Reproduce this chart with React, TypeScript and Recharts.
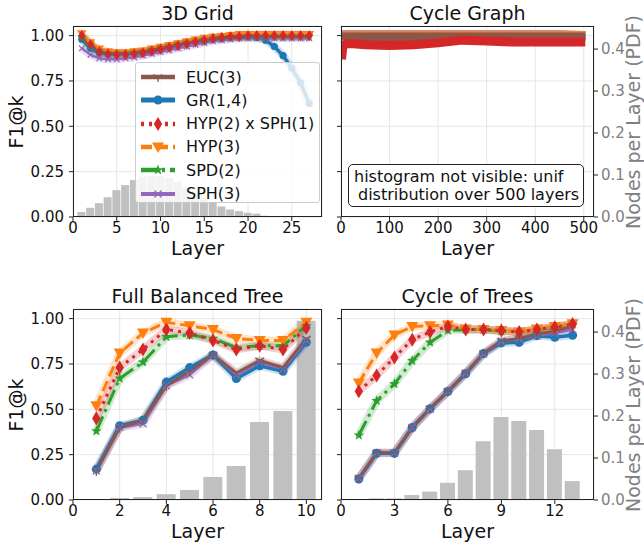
import React from 'react'
import { ComposedChart, Line, Bar, XAxis, YAxis, CartesianGrid } from 'recharts'

const FONT = '"DejaVu Sans", Verdana, sans-serif'

// ---------- 3D Grid ----------
const gridLayers = [1, 2, 3, 4, 5, 6, 7, 8, 9, 10, 11, 12, 13, 14, 15, 16, 17, 18, 19, 20, 21, 22, 23, 24, 25, 26, 27]
const gridPdf = [0.012, 0.022, 0.033, 0.047, 0.064, 0.076, 0.088, 0.096, 0.098, 0.098, 0.093, 0.084, 0.071, 0.057, 0.045, 0.034, 0.025, 0.018, 0.014, 0.01, 0.008, 0.003]
const gridEuc = [0.99, 0.95, 0.915, 0.9, 0.9, 0.9, 0.905, 0.91, 0.92, 0.93, 0.94, 0.95, 0.96, 0.965, 0.975, 0.98, 0.985, 0.99, 0.99, 0.995, 0.995, 0.995, 0.995, 0.995, 0.995, 0.995, 0.995]
const gridGr = [0.98, 0.93, 0.905, 0.9, 0.9, 0.9, 0.905, 0.91, 0.92, 0.93, 0.94, 0.95, 0.96, 0.97, 0.975, 0.985, 0.99, 0.995, 0.995, 0.995, 0.99, 0.975, 0.94, 0.89, 0.82, 0.74, 0.625]
const gridHs = [1.0, 0.95, 0.91, 0.9, 0.895, 0.895, 0.9, 0.905, 0.915, 0.925, 0.935, 0.945, 0.955, 0.965, 0.975, 0.985, 0.99, 0.995, 0.995, 1.0, 1.0, 1.0, 1.0, 1.0, 1.0, 1.0, 1.0]
const gridHyp = [1.01, 0.96, 0.925, 0.91, 0.905, 0.905, 0.91, 0.915, 0.925, 0.935, 0.945, 0.955, 0.965, 0.975, 0.985, 0.99, 0.995, 1.0, 1.005, 1.005, 1.005, 1.005, 1.005, 1.005, 1.005, 1.005, 1.005]
const gridSpd = [0.99, 0.94, 0.91, 0.9, 0.9, 0.9, 0.905, 0.91, 0.92, 0.93, 0.94, 0.95, 0.96, 0.97, 0.975, 0.985, 0.99, 0.99, 0.995, 0.995, 0.995, 0.995, 0.995, 0.995, 0.995, 0.995, 0.995]
const gridSph = [0.93, 0.895, 0.875, 0.87, 0.87, 0.875, 0.88, 0.89, 0.9, 0.91, 0.92, 0.93, 0.94, 0.95, 0.96, 0.97, 0.975, 0.98, 0.985, 0.985, 0.985, 0.985, 0.985, 0.985, 0.985, 0.985, 0.985]

// ---------- Cycle Graph ----------
const cycleLayers = [1, 4, 10, 25, 50, 100, 150, 200, 250, 300, 350, 400, 450, 503]
const cycleEuc = [0.99, 0.993, 0.993, 0.993, 0.993, 0.993, 0.993, 0.993, 0.993, 0.993, 0.993, 0.993, 0.993, 0.993]
const cycleGr = [0.99, 1.0, 1.0, 1.0, 1.0, 1.0, 1.0, 1.0, 1.0, 1.0, 1.0, 1.0, 1.0, 0.99]
const cycleHs = [0.87, 0.94, 0.955, 0.955, 0.95, 0.945, 0.95, 0.96, 0.975, 0.97, 0.965, 0.965, 0.965, 0.965]
const cycleHyp = [1.0, 1.0, 1.0, 1.0, 1.0, 1.0, 1.0, 1.0, 1.0, 1.0, 1.0, 1.0, 1.0, 1.0]
const cycleSpd = [1.0, 1.0, 1.0, 1.0, 1.0, 1.0, 1.0, 1.0, 1.0, 1.0, 1.0, 1.0, 1.0, 1.0]
const cycleSph = [1.0, 1.005, 1.005, 1.005, 1.005, 1.005, 1.005, 1.005, 1.005, 1.005, 1.005, 1.005, 1.005, 1.0]

// ---------- Full Balanced Tree ----------
const treeLayers = [1, 2, 3, 4, 5, 6, 7, 8, 9, 10]
const treePdf = [0.001, 0.005, 0.007, 0.014, 0.024, 0.055, 0.081, 0.186, 0.212, 0.427]
const treeEuc = [0.16, 0.4, 0.44, 0.63, 0.71, 0.8, 0.7, 0.77, 0.73, 0.89]
const treeGr = [0.17, 0.41, 0.44, 0.65, 0.73, 0.8, 0.67, 0.74, 0.71, 0.87]
const treeHs = [0.45, 0.73, 0.83, 0.94, 0.92, 0.88, 0.83, 0.85, 0.83, 0.95]
const treeHyp = [0.52, 0.81, 0.92, 0.98, 0.96, 0.94, 0.89, 0.88, 0.88, 0.98]
const treeSpd = [0.38, 0.67, 0.76, 0.9, 0.91, 0.89, 0.84, 0.85, 0.85, 0.96]
const treeSph = [0.16, 0.4, 0.42, 0.63, 0.69, 0.8, 0.69, 0.76, 0.72, 0.88]

// ---------- Cycle of Trees ----------
const cotLayers = [1, 2, 3, 4, 5, 6, 7, 8, 9, 10, 11, 12, 13]
const cotPdf = [0.001, 0.004, 0.004, 0.012, 0.02, 0.041, 0.071, 0.14, 0.198, 0.188, 0.167, 0.121, 0.045]
const cotEuc = [0.12, 0.26, 0.26, 0.4, 0.505, 0.6, 0.7, 0.81, 0.878, 0.89, 0.915, 0.93, 0.958]
const cotGr = [0.116, 0.258, 0.258, 0.4, 0.503, 0.598, 0.696, 0.807, 0.866, 0.869, 0.906, 0.897, 0.908]
const cotHs = [0.6, 0.687, 0.786, 0.884, 0.926, 0.957, 0.94, 0.94, 0.935, 0.926, 0.94, 0.953, 0.97]
const cotHyp = [0.645, 0.81, 0.91, 0.957, 0.96, 0.965, 0.943, 0.94, 0.935, 0.926, 0.943, 0.957, 0.972]
const cotSpd = [0.357, 0.547, 0.64, 0.768, 0.869, 0.935, 0.94, 0.94, 0.93, 0.927, 0.94, 0.953, 0.968]
const cotSph = [0.12, 0.26, 0.26, 0.4, 0.5, 0.6, 0.7, 0.805, 0.875, 0.89, 0.905, 0.92, 0.94]

const f1Ticks = [0, 0.25, 0.5, 0.75, 1.0]
const pdfTicks = [0, 0.1, 0.2, 0.3, 0.4]

type Shape = 'circle' | 'diamond' | 'tri' | 'star' | 'x' | 'y'
type Series = { key: string; name: string; color: string; width: number; dash?: string; marker: Shape; size: number }

// drawing order (last on top)
const SERIES: Series[] = [
  { key: 'gr', name: 'GR(1,4)', color: '#1f77b4', width: 3.5, marker: 'circle', size: 4.5 },
  { key: 'sph', name: 'SPH(3)', color: '#9467bd', width: 2.5, marker: 'x', size: 3.5 },
  { key: 'spd', name: 'SPD(2)', color: '#2ca02c', width: 3, dash: '16 5 3 5', marker: 'star', size: 5.5 },
  { key: 'hyp', name: 'HYP(3)', color: '#ff7f0e', width: 3, dash: '11 5', marker: 'tri', size: 6 },
  { key: 'euc', name: 'EUC(3)', color: '#8c564b', width: 3, marker: 'y', size: 5 },
  { key: 'hs', name: 'HYP(2) x SPH(1)', color: '#d62728', width: 3, dash: '3 5', marker: 'diamond', size: 7 },
]
const LEGEND_ORDER = ['euc', 'gr', 'hs', 'hyp', 'spd', 'sph']

function MarkerShape({ shape, cx, cy, s, color }: { shape: Shape; cx: number; cy: number; s: number; color: string }) {
  switch (shape) {
    case 'circle':
      return <circle cx={cx} cy={cy} r={s} fill={color} />
    case 'diamond':
      return <polygon points={`${cx},${cy - s} ${cx + s * 0.6},${cy} ${cx},${cy + s} ${cx - s * 0.6},${cy}`} fill={color} />
    case 'tri':
      return <polygon points={`${cx - s},${cy - s * 0.75} ${cx + s},${cy - s * 0.75} ${cx},${cy + s}`} fill={color} />
    case 'star': {
      const pts: string[] = []
      for (let i = 0; i < 10; i++) {
        const r = i % 2 === 0 ? s : s * 0.42
        const a = -Math.PI / 2 + (i * Math.PI) / 5
        pts.push(`${cx + r * Math.cos(a)},${cy + r * Math.sin(a)}`)
      }
      return <polygon points={pts.join(' ')} fill={color} />
    }
    case 'x':
      return (
        <g stroke={color} strokeWidth={1.3}>
          <line x1={cx - s} y1={cy - s} x2={cx + s} y2={cy + s} />
          <line x1={cx - s} y1={cy + s} x2={cx + s} y2={cy - s} />
        </g>
      )
    case 'y':
    default:
      return (
        <g stroke={color} strokeWidth={1.3}>
          <line x1={cx} y1={cy} x2={cx} y2={cy + s} />
          <line x1={cx} y1={cy} x2={cx - s * 0.87} y2={cy - s * 0.5} />
          <line x1={cx} y1={cy} x2={cx + s * 0.87} y2={cy - s * 0.5} />
        </g>
      )
  }
}

const makeDot = (s: Series, color: string, scale: number) => (p: any) => {
  const k = `${s.key}-${p.index}`
  if (p.cx == null || p.cy == null || p.value == null) return <g key={k} />
  return (
    <g key={k}>
      <MarkerShape shape={s.marker} cx={p.cx} cy={p.cy} s={s.size * scale} color={color} />
    </g>
  )
}

type Row = { layer: number; [k: string]: number | undefined }

function buildRows(layers: number[], pdf: number[] | null, cols: Record<string, number[]>): Row[] {
  return layers.map((layer, i) => {
    const r: Row = { layer }
    if (pdf && pdf[i] !== undefined) r.pdf = pdf[i]
    Object.keys(cols).forEach((k) => {
      if (cols[k][i] !== undefined) r[k] = cols[k][i]
    })
    return r
  })
}

const gridRows = buildRows(gridLayers, gridPdf, { euc: gridEuc, gr: gridGr, hs: gridHs, hyp: gridHyp, spd: gridSpd, sph: gridSph })
const cycleRows = buildRows(cycleLayers, null, { euc: cycleEuc, gr: cycleGr, hs: cycleHs, hyp: cycleHyp, spd: cycleSpd, sph: cycleSph })
const treeRows = buildRows(treeLayers, treePdf, { euc: treeEuc, gr: treeGr, hs: treeHs, hyp: treeHyp, spd: treeSpd, sph: treeSph })
const cotRows = buildRows(cotLayers, cotPdf, { euc: cotEuc, gr: cotGr, hs: cotHs, hyp: cotHyp, spd: cotSpd, sph: cotSph })

type PanelProps = {
  x: number; y: number; w: number; h: number
  title: string
  rows: Row[]
  xMax: number; xTicks: number[]
  yMax: number; pdfMax: number
  leftLabels: boolean; rightLabels: boolean
  barSize: number
  thick?: boolean
  scale?: number
}

function Panel(props: PanelProps) {
  const { x, y, w, h, title, rows, xMax, xTicks, yMax, pdfMax, leftLabels, rightLabels, barSize, thick } = props
  const scale = props.scale ?? 1
  const M = 4
  const AXW = 56
  const XH = 30
  const tickStyle = { fontSize: 15, fill: '#111', fontFamily: FONT }
  return (
    <>
      <div style={{ position: 'absolute', left: x, top: y - 25, width: w, textAlign: 'center', fontSize: 19, lineHeight: '24px', fontFamily: FONT, color: '#111' }}>
        {title}
      </div>
      <div style={{ position: 'absolute', left: x - M - AXW, top: y - M }}>
        <ComposedChart width={w + 2 * (M + AXW)} height={h + XH + 2 * M} data={rows} margin={{ top: M, right: M, bottom: M, left: M }}>
          <CartesianGrid yAxisId="f1" stroke="#e6e6e6" strokeWidth={1} />
          <XAxis
            dataKey="layer" type="number" domain={[0, xMax]} ticks={xTicks} allowDataOverflow height={XH}
            axisLine={false} tickLine={{ stroke: '#222' }} tickSize={4} tickMargin={1} tick={tickStyle} interval={0}
          />
          <YAxis
            yAxisId="f1" domain={[0, yMax]} ticks={f1Ticks} allowDataOverflow width={AXW} axisLine={false}
            tickLine={{ stroke: '#222' }} tickSize={4} tickMargin={5} tick={tickStyle} interval={0}
            tickFormatter={(v: number) => (leftLabels ? v.toFixed(2) : '')}
          />
          <YAxis
            yAxisId="pdf" orientation="right" domain={[0, pdfMax]} ticks={pdfTicks} allowDataOverflow width={AXW}
            axisLine={false} tickLine={rightLabels ? { stroke: '#222' } : false} tickSize={4} tickMargin={3} interval={0}
            tick={rightLabels ? { ...tickStyle, fill: '#808080' } : false}
            tickFormatter={(v: number) => v.toFixed(1)}
          />
          <Bar yAxisId="pdf" dataKey="pdf" fill="#c0c0c0" barSize={barSize} isAnimationActive={false} />
          {!thick &&
            SERIES.map((s) => (
              <Line
                key={`halo-${s.key}`} yAxisId="f1" dataKey={s.key} stroke={s.color} strokeOpacity={0.22}
                strokeWidth={8} dot={false} activeDot={false} isAnimationActive={false} legendType="none"
              />
            ))}
          {SERIES.map((s) => (
            <Line
              key={s.key} yAxisId="f1" dataKey={s.key} name={s.name} stroke={s.color}
              strokeWidth={thick ? 9 : s.width} strokeDasharray={thick ? undefined : s.dash}
              dot={thick ? false : makeDot(s, s.color, scale)} activeDot={false} isAnimationActive={false}
            />
          ))}
        </ComposedChart>
      </div>
      <div style={{ position: 'absolute', left: x, top: y, width: w, height: h, border: '1px solid #222', boxSizing: 'border-box', pointerEvents: 'none' }} />
      <div style={{ position: 'absolute', left: x, top: y + h + 20, width: w, textAlign: 'center', fontSize: 19, lineHeight: '22px', fontFamily: FONT, color: '#111' }}>
        Layer
      </div>
      {leftLabels && (
        <div style={{ position: 'absolute', left: 16 - 60, top: y + h / 2 - 12, width: 120, textAlign: 'center', fontSize: 19, lineHeight: '24px', fontFamily: FONT, color: '#111', transform: 'rotate(-90deg)' }}>
          F1@k
        </div>
      )}
      {rightLabels && (
        <div style={{ position: 'absolute', left: 633 - 130, top: y + h / 2 - 12, width: 260, textAlign: 'center', fontSize: 19, lineHeight: '24px', fontFamily: FONT, color: '#808080', transform: 'rotate(-90deg)' }}>
          Nodes per Layer (PDF)
        </div>
      )}
    </>
  )
}

function LegendBox() {
  return (
    <div style={{ position: 'absolute', left: 135, top: 62, width: 185, height: 141, boxSizing: 'border-box', background: 'rgba(255,255,255,0.8)', border: '1px solid #cccccc', borderRadius: 3, fontFamily: FONT, fontSize: 16, color: '#111' }}>
      {LEGEND_ORDER.map((k, i) => {
        const s = SERIES.find((d) => d.key === k)!
        return (
          <div key={k} style={{ position: 'absolute', left: 4, top: 3 + i * 23.3, height: 22, display: 'flex', alignItems: 'center' }}>
            <svg width={36} height={20} style={{ display: 'block' }}>
              <line x1={1} y1={10} x2={35} y2={10} stroke={s.color} strokeWidth={s.width + 1.5} strokeDasharray={s.dash} />
              <MarkerShape shape={s.marker} cx={18} cy={10} s={s.size} color={s.color} />
            </svg>
            <span style={{ marginLeft: 10, whiteSpace: 'nowrap' }}>{s.name}</span>
          </div>
        )
      })}
    </div>
  )
}

export default function App() {
  return (
    <div style={{ position: 'absolute', left: 0, top: 0, width: 644, height: 545, background: '#fff', overflow: 'hidden' }}>
      <Panel
        x={73} y={26} w={249} h={191} title="3D Grid" rows={gridRows} xMax={28.45} xTicks={[0, 5, 10, 15, 20, 25]}
        yMax={1.053} pdfMax={0.455} leftLabels rightLabels={false} barSize={8} scale={0.8}
      />
      <Panel
        x={341} y={26} w={253} h={191} title="Cycle Graph" rows={cycleRows} xMax={521} xTicks={[0, 100, 200, 300, 400, 500]}
        yMax={1.053} pdfMax={0.455} leftLabels={false} rightLabels barSize={1} thick
      />
      <Panel
        x={73} y={309} w={249} h={191} title="Full Balanced Tree" rows={treeRows} xMax={10.67} xTicks={[0, 2, 4, 6, 8, 10]}
        yMax={1.053} pdfMax={0.455} leftLabels rightLabels={false} barSize={19}
      />
      <Panel
        x={341} y={309} w={253} h={191} title="Cycle of Trees" rows={cotRows} xMax={14.2} xTicks={[0, 3, 6, 9, 12]}
        yMax={1.053} pdfMax={0.455} leftLabels={false} rightLabels barSize={15}
      />
      <LegendBox />
      <div style={{ position: 'absolute', left: 348, top: 164, width: 236, height: 43, boxSizing: 'border-box', border: '1px solid #222', borderRadius: 5, background: '#fff', fontFamily: FONT, fontSize: 16, lineHeight: '18px', color: '#111', paddingTop: 3 }}>
        <div style={{ marginLeft: 5, whiteSpace: 'nowrap' }}>histogram not visible: unif</div>
        <div style={{ marginLeft: 9, whiteSpace: 'nowrap' }}>distribution over 500 layers</div>
      </div>
    </div>
  )
}
